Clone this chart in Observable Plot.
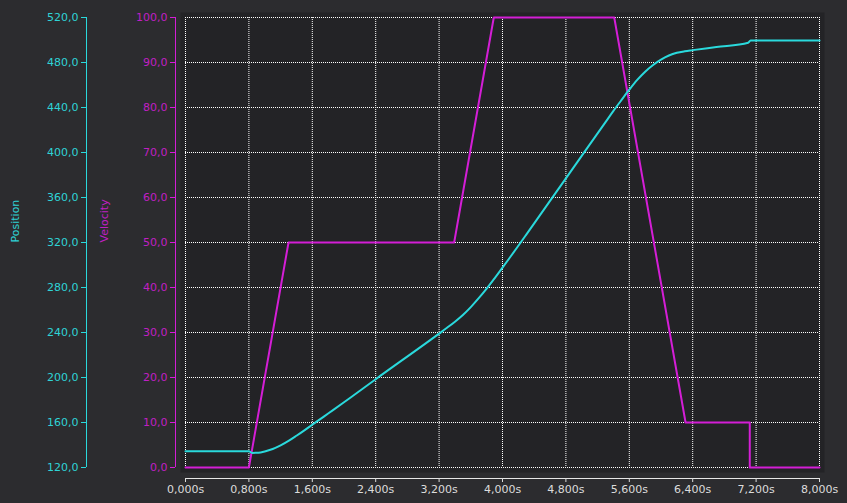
<!DOCTYPE html>
<html>
<head>
<meta charset="utf-8">
<script src="https://cdn.jsdelivr.net/npm/d3@7"></script>
<script src="https://cdn.jsdelivr.net/npm/@observablehq/plot@0.6"></script>
<style>
  html, body { margin: 0; padding: 0; background: #2c2c2f; }
  #chart svg { display: block; }
</style>
</head>
<body>
<div id="chart"></div>
<script>
// Velocity profile: time (s) and velocity
const velocityTimes  = [0, 0.8, 1.3, 3.39, 3.89, 5.41, 6.31, 7.12, 7.12, 8];
const velocityValues = [0, 0,   50,  50,   100,  100,  10,   10,   0,    0];

// Measured position: time (s) and position
const positionTimes  = [0, 0.8, 0.84, 0.92, 1.0, 1.1, 1.2, 1.3, 1.4, 1.5, 1.6, 1.7, 1.8, 2.0, 2.4, 3.2, 3.3, 3.4, 3.5, 3.6, 3.7, 3.8, 3.9, 4.0, 4.1, 4.2, 4.3, 4.8, 5.3, 5.4, 5.5, 5.6, 5.7, 5.8, 5.9, 6.0, 6.1, 6.2, 6.3, 6.4, 6.7, 7.1, 7.13, 8];
const positionValues = [134.5, 134.5, 133.0, 133.1, 134.2, 136.4, 139.6, 143.6, 148.2, 153.0, 158.0, 163.0, 168.0, 178.0, 198.5, 239.0, 244.2, 249.6, 255.6, 262.6, 270.5, 279.0, 288.2, 297.6, 307.3, 317.1, 327.0, 377.0, 427.0, 437.0, 446.5, 455.8, 464.5, 471.8, 477.8, 482.6, 486.2, 488.6, 490.0, 491.0, 493.8, 497.6, 499.6, 499.6];

// Tick values
const timeTicks     = [0, 0.8, 1.6, 2.4, 3.2, 4.0, 4.8, 5.6, 6.4, 7.2, 8.0];
const velocityTicks = [0, 10, 20, 30, 40, 50, 60, 70, 80, 90, 100];
const positionTicks = [120, 160, 200, 240, 280, 320, 360, 400, 440, 480, 520];

// Position shares the plot with velocity: 120..520 maps onto 0..100
const posMin = 120, posMax = 520;
const posToVel = p => (p - posMin) / (posMax - posMin) * 100;
const comma = (v, d) => v.toFixed(d).replace(".", ",");

const CYAN = "#2ad9dc";
const MAGENTA = "#d41ed6";
const CYAN_TEXT = "#2fd3d6";
const MAGENTA_TEXT = "#c01fc4";
const GRID = "#ffffff";

const velocity = velocityTimes.map((t, i) => ({t, v: velocityValues[i]}));
const position = positionTimes.map((t, i) => ({t, v: posToVel(positionValues[i])}));

const chart = Plot.plot({
  width: 847,
  height: 503,
  marginLeft: 185,
  marginRight: 28,
  marginTop: 17,
  marginBottom: 36,
  style: {
    background: "#2c2c2f",
    color: "#dcdcdc",
    fontFamily: "'DejaVu Sans', Verdana, sans-serif",
    fontSize: "11px"
  },
  x: {domain: [0, 8]},
  y: {domain: [0, 100]},
  marks: [
    // plot area background
    Plot.frame({fill: "#232326", stroke: null, insetLeft: -5, insetRight: -5, insetTop: -5, insetBottom: -5}),
    // dotted grid
    Plot.gridX(timeTicks, {stroke: GRID, strokeOpacity: 1, strokeDasharray: "1,1"}),
    Plot.gridY(velocityTicks, {stroke: GRID, strokeOpacity: 1, strokeDasharray: "1,1"}),

    // time axis below the plot area
    Plot.ruleY([0], {dy: 11, stroke: "#e6e6e6"}),
    Plot.axisX(timeTicks, {
      anchor: "bottom", dy: 11, tickSize: 4, tickPadding: 3,
      tickFormat: d => comma(d, 3) + "s", color: "#dcdcdc", label: null
    }),

    // velocity axis
    Plot.ruleX([0], {dx: -10, stroke: MAGENTA}),
    Plot.axisY(velocityTicks, {
      anchor: "left", dx: -10, tickSize: 5, tickPadding: 3,
      tickFormat: d => comma(d, 1), stroke: MAGENTA, fill: MAGENTA_TEXT, label: null
    }),
    Plot.text(["Velocity"], {frameAnchor: "left", dx: -81, rotate: -90, fill: MAGENTA_TEXT, fontSize: 11}),

    // position axis
    Plot.ruleX([0], {dx: -99, stroke: CYAN}),
    Plot.axisY(positionTicks.map(posToVel), {
      anchor: "left", dx: -99, tickSize: 5, tickPadding: 3,
      tickFormat: d => comma(posMin + d / 100 * (posMax - posMin), 1), stroke: CYAN, fill: CYAN_TEXT, label: null
    }),
    Plot.text(["Position"], {frameAnchor: "left", dx: -170, rotate: -90, fill: CYAN_TEXT, fontSize: 11}),

    // series
    Plot.line(velocity, {x: "t", y: "v", stroke: MAGENTA, strokeWidth: 2}),
    Plot.line(position, {x: "t", y: "v", stroke: CYAN, strokeWidth: 2, curve: "monotone-x"})
  ]
});

document.getElementById("chart").append(chart);
</script>
</body>
</html>
